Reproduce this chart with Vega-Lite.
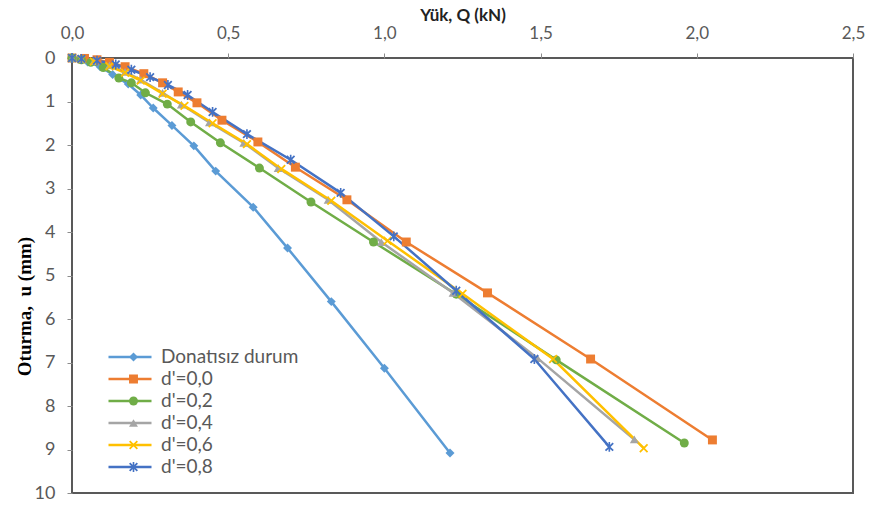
{
  "$schema": "https://vega.github.io/schema/vega-lite/v6.json",
  "width": 781,
  "height": 435,
  "autosize": {"type": "none"},
  "padding": {"left": 72, "top": 58, "right": 16, "bottom": 12},
  "background": "white",
  "config": {
    "view": {"stroke": "#595959", "strokeWidth": 2},
    "font": "Lato"
  },
  "data": {
    "values": [
      {"series": "Donatısız durum", "q": 0, "u": 0},
      {"series": "Donatısız durum", "q": 0.02, "u": 0.03},
      {"series": "Donatısız durum", "q": 0.05, "u": 0.09},
      {"series": "Donatısız durum", "q": 0.09, "u": 0.2},
      {"series": "Donatısız durum", "q": 0.13, "u": 0.38},
      {"series": "Donatısız durum", "q": 0.18, "u": 0.6},
      {"series": "Donatısız durum", "q": 0.22, "u": 0.85},
      {"series": "Donatısız durum", "q": 0.26, "u": 1.15},
      {"series": "Donatısız durum", "q": 0.32, "u": 1.55},
      {"series": "Donatısız durum", "q": 0.39, "u": 2.02},
      {"series": "Donatısız durum", "q": 0.46, "u": 2.6},
      {"series": "Donatısız durum", "q": 0.58, "u": 3.43},
      {"series": "Donatısız durum", "q": 0.69, "u": 4.37},
      {"series": "Donatısız durum", "q": 0.83, "u": 5.6},
      {"series": "Donatısız durum", "q": 1.0, "u": 7.13},
      {"series": "Donatısız durum", "q": 1.21, "u": 9.08},

      {"series": "d'=0,0", "q": 0, "u": 0},
      {"series": "d'=0,0", "q": 0.04, "u": 0.01},
      {"series": "d'=0,0", "q": 0.08, "u": 0.04},
      {"series": "d'=0,0", "q": 0.12, "u": 0.1},
      {"series": "d'=0,0", "q": 0.17, "u": 0.2},
      {"series": "d'=0,0", "q": 0.23, "u": 0.36},
      {"series": "d'=0,0", "q": 0.29, "u": 0.57},
      {"series": "d'=0,0", "q": 0.34, "u": 0.78},
      {"series": "d'=0,0", "q": 0.4, "u": 1.03},
      {"series": "d'=0,0", "q": 0.48, "u": 1.43},
      {"series": "d'=0,0", "q": 0.595, "u": 1.93},
      {"series": "d'=0,0", "q": 0.715, "u": 2.51},
      {"series": "d'=0,0", "q": 0.88, "u": 3.26},
      {"series": "d'=0,0", "q": 1.07, "u": 4.23},
      {"series": "d'=0,0", "q": 1.33, "u": 5.4},
      {"series": "d'=0,0", "q": 1.66, "u": 6.92},
      {"series": "d'=0,0", "q": 2.05, "u": 8.78},

      {"series": "d'=0,2", "q": 0, "u": 0},
      {"series": "d'=0,2", "q": 0.03, "u": 0.04},
      {"series": "d'=0,2", "q": 0.06, "u": 0.1},
      {"series": "d'=0,2", "q": 0.1, "u": 0.22},
      {"series": "d'=0,2", "q": 0.15, "u": 0.46},
      {"series": "d'=0,2", "q": 0.19, "u": 0.57},
      {"series": "d'=0,2", "q": 0.235, "u": 0.8},
      {"series": "d'=0,2", "q": 0.305, "u": 1.06},
      {"series": "d'=0,2", "q": 0.38, "u": 1.47},
      {"series": "d'=0,2", "q": 0.475, "u": 1.95},
      {"series": "d'=0,2", "q": 0.6, "u": 2.53},
      {"series": "d'=0,2", "q": 0.765, "u": 3.31},
      {"series": "d'=0,2", "q": 0.965, "u": 4.23},
      {"series": "d'=0,2", "q": 1.23, "u": 5.43},
      {"series": "d'=0,2", "q": 1.55, "u": 6.94},
      {"series": "d'=0,2", "q": 1.96, "u": 8.85},

      {"series": "d'=0,4", "q": 0, "u": 0},
      {"series": "d'=0,4", "q": 0.03, "u": 0.02},
      {"series": "d'=0,4", "q": 0.07, "u": 0.07},
      {"series": "d'=0,4", "q": 0.12, "u": 0.17},
      {"series": "d'=0,4", "q": 0.17, "u": 0.32},
      {"series": "d'=0,4", "q": 0.22, "u": 0.5},
      {"series": "d'=0,4", "q": 0.29, "u": 0.8},
      {"series": "d'=0,4", "q": 0.35, "u": 1.07},
      {"series": "d'=0,4", "q": 0.44, "u": 1.48},
      {"series": "d'=0,4", "q": 0.55, "u": 1.95},
      {"series": "d'=0,4", "q": 0.66, "u": 2.53},
      {"series": "d'=0,4", "q": 0.82, "u": 3.26},
      {"series": "d'=0,4", "q": 0.99, "u": 4.23},
      {"series": "d'=0,4", "q": 1.22, "u": 5.4},
      {"series": "d'=0,4", "q": 1.49, "u": 6.9},
      {"series": "d'=0,4", "q": 1.8, "u": 8.77},

      {"series": "d'=0,6", "q": 0, "u": 0},
      {"series": "d'=0,6", "q": 0.03, "u": 0.03},
      {"series": "d'=0,6", "q": 0.07, "u": 0.08},
      {"series": "d'=0,6", "q": 0.12, "u": 0.19},
      {"series": "d'=0,6", "q": 0.17, "u": 0.34},
      {"series": "d'=0,6", "q": 0.22, "u": 0.52},
      {"series": "d'=0,6", "q": 0.29, "u": 0.82},
      {"series": "d'=0,6", "q": 0.36, "u": 1.1},
      {"series": "d'=0,6", "q": 0.45, "u": 1.5},
      {"series": "d'=0,6", "q": 0.56, "u": 1.98},
      {"series": "d'=0,6", "q": 0.67, "u": 2.55},
      {"series": "d'=0,6", "q": 0.83, "u": 3.28},
      {"series": "d'=0,6", "q": 1.01, "u": 4.2},
      {"series": "d'=0,6", "q": 1.25, "u": 5.42},
      {"series": "d'=0,6", "q": 1.54, "u": 6.92},
      {"series": "d'=0,6", "q": 1.83, "u": 8.97},

      {"series": "d'=0,8", "q": 0, "u": 0},
      {"series": "d'=0,8", "q": 0.03, "u": 0.02},
      {"series": "d'=0,8", "q": 0.08, "u": 0.06},
      {"series": "d'=0,8", "q": 0.14, "u": 0.15},
      {"series": "d'=0,8", "q": 0.19, "u": 0.27},
      {"series": "d'=0,8", "q": 0.25, "u": 0.44},
      {"series": "d'=0,8", "q": 0.307, "u": 0.62},
      {"series": "d'=0,8", "q": 0.37, "u": 0.85},
      {"series": "d'=0,8", "q": 0.45, "u": 1.24},
      {"series": "d'=0,8", "q": 0.56, "u": 1.75},
      {"series": "d'=0,8", "q": 0.7, "u": 2.34},
      {"series": "d'=0,8", "q": 0.86, "u": 3.1},
      {"series": "d'=0,8", "q": 1.03, "u": 4.1},
      {"series": "d'=0,8", "q": 1.23, "u": 5.35},
      {"series": "d'=0,8", "q": 1.48, "u": 6.92},
      {"series": "d'=0,8", "q": 1.72, "u": 8.94}
    ]
  },
  "encoding": {
    "x": {
      "field": "q",
      "type": "quantitative",
      "scale": {"domain": [0, 2.5], "nice": false, "zero": false},
      "axis": {
        "orient": "top",
        "title": "Yük, Q (kN)",
        "values": [0, 0.5, 1, 1.5, 2, 2.5],
        "labelExpr": "replace(format(datum.value, '.1f'), '.', ',')",
        "labelFlush": false,
        "domain": false,
        "grid": false,
        "ticks": true,
        "tickSize": 5,
        "tickColor": "#8c8c8c",
        "labelFont": "Lato",
        "labelFontSize": 17,
        "labelColor": "#595959",
        "labelPadding": 11,
        "titleFont": "Lato",
        "titleFontSize": 17,
        "titleFontWeight": "bold",
        "titleColor": "#222222",
        "titlePadding": 0
      }
    },
    "y": {
      "field": "u",
      "type": "quantitative",
      "scale": {"domain": [0, 10], "reverse": true, "nice": false},
      "axis": {
        "values": [0, 1, 2, 3, 4, 5, 6, 7, 8, 9, 10],
        "title": "Oturma,\u00a0 u (mm)",
        "labelFlush": false,
        "domain": false,
        "grid": false,
        "ticks": true,
        "tickSize": 5,
        "tickColor": "#8c8c8c",
        "labelFont": "Lato",
        "labelFontSize": 18,
        "labelColor": "#595959",
        "labelPadding": 12,
        "titleFont": "Liberation Serif",
        "titleFontSize": 19,
        "titleFontWeight": "bold",
        "titleColor": "#000000",
        "titleX": -48,
        "titleY": 248,
        "titleAlign": "center",
        "titleBaseline": "middle",
        "titleAngle": 270
      }
    }
  },
  "layer": [
    {
      "mark": {"type": "line", "strokeWidth": 2.5},
      "encoding": {
        "color": {
          "field": "series",
          "type": "nominal",
          "scale": {
            "domain": ["Donatısız durum", "d'=0,0", "d'=0,2", "d'=0,4", "d'=0,6", "d'=0,8"],
            "range": ["#5B9BD5", "#ED7D31", "#70AD47", "#A5A5A5", "#FFC000", "#4472C4"]
          },
          "legend": {
            "title": null,
            "orient": "none",
            "legendX": 35,
            "legendY": 289.5,
            "padding": 0,
            "clipHeight": 19,
            "symbolType": "stroke",
            "symbolSize": 1850,
            "symbolStrokeWidth": 2.5,
            "labelFont": "Lato",
            "labelFontSize": 19,
            "labelColor": "#595959",
            "labelOffset": 8,
            "rowPadding": 2
          }
        }
      }
    },
    {
      "mark": {"type": "point", "filled": true, "opacity": 1, "size": 80, "strokeWidth": 0},
      "encoding": {
        "fill": {
          "field": "series",
          "type": "nominal",
          "scale": {
            "range": ["#5B9BD5", "#ED7D31", "#70AD47", "#A5A5A5", "#FFC000", "#4472C4"]
          },
          "legend": {
            "title": null,
            "orient": "none",
            "legendX": 52,
            "legendY": 289.5,
            "padding": 0,
            "clipHeight": 19,
            "symbolSize": 80,
            "symbolStrokeWidth": 0,
            "labelFont": "Lato",
            "labelFontSize": 19,
            "labelExpr": "''",
            "labelOffset": 8,
            "rowPadding": 2
          }
        },
        "shape": {
          "field": "series",
          "type": "nominal",
          "scale": {
            "range": [
              "diamond",
              "square",
              "circle",
              "triangle-up",
              "M-1,-0.72L-0.72,-1L0,-0.28L0.72,-1L1,-0.72L0.28,0L1,0.72L0.72,1L0,0.28L-0.72,1L-1,0.72L-0.28,0Z",
              "M-1,-0.72L-0.72,-1L0,-0.28L0.72,-1L1,-0.72L0.28,0L1,0.72L0.72,1L0,0.28L-0.72,1L-1,0.72L-0.28,0Z M-0.18,-1.1L0.18,-1.1L0.18,1.1L-0.18,1.1Z"
            ]
          },
          "legend": {
            "title": null,
            "orient": "none",
            "legendX": 52,
            "legendY": 289.5,
            "padding": 0,
            "clipHeight": 19,
            "symbolSize": 80,
            "symbolStrokeWidth": 0,
            "labelFont": "Lato",
            "labelFontSize": 19,
            "labelExpr": "''",
            "labelOffset": 8,
            "rowPadding": 2
          }
        }
      }
    }
  ]
}
